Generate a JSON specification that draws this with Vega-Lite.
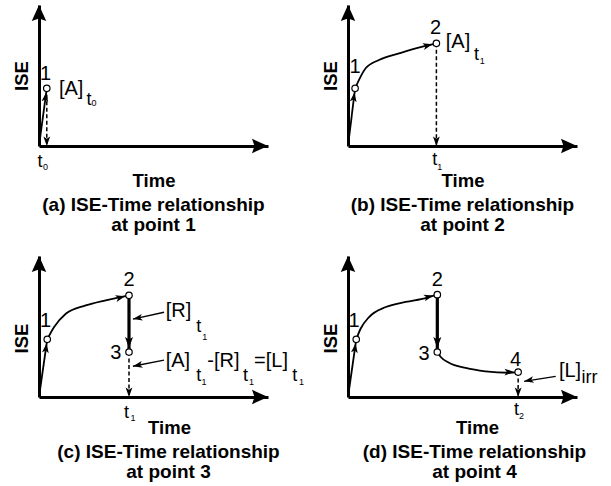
{
  "$schema": "https://vega.github.io/schema/vega-lite/v6.json",
  "padding": {"left": 12, "top": 5, "right": 5, "bottom": 2},
  "columns": 2,
  "spacing": {"row": 110, "column": 80},
  "bounds": "flush",
  "config": {
    "view": {"stroke": null},
    "font": "Liberation Sans",
    "axis": {"domainColor": "black", "domainWidth": 3, "ticks": false, "labels": false, "grid": false, "titleFont": "Liberation Sans", "titleFontSize": 18.5, "titleFontWeight": "bold", "titleColor": "black"},
    "axisX": {"titlePadding": 25},
    "axisY": {"titlePadding": 8},
    "title": {"font": "Liberation Sans", "fontSize": 19, "fontWeight": "bold", "color": "black", "lineHeight": 20, "orient": "bottom", "frame": "group", "anchor": "middle", "offset": 6},
    "text": {"font": "Liberation Sans", "color": "black"},
    "line": {"color": "black", "interpolate": "monotone"},
    "style": {
      "lsolid": {"strokeWidth": 1.8},
      "lthick": {"strokeWidth": 3.2},
      "ldash": {"strokeWidth": 1.5, "strokeDash": [4, 2.5]},
      "lpointer": {"strokeWidth": 1.3},
      "num": {"fontSize": 20, "align": "center", "baseline": "middle"},
      "tmain": {"fontSize": 20, "align": "left", "baseline": "middle"},
      "tsub": {"fontSize": 18, "align": "left", "baseline": "middle"},
      "tsub2": {"fontSize": 9, "align": "left", "baseline": "middle"}
    }
  },
  "datasets": {
    "lines": [
      {"panel": "a", "seg": "a1", "kind": "solid", "x": 0, "y": 0},
      {"panel": "a", "seg": "a1", "kind": "solid", "x": 0.34, "y": 4.09},
      {"panel": "a", "seg": "a2", "kind": "dash", "x": 0.34, "y": 4.09},
      {"panel": "a", "seg": "a2", "kind": "dash", "x": 0.34, "y": 0},
      {"panel": "b", "seg": "b1", "kind": "solid", "x": 0, "y": 0},
      {"panel": "b", "seg": "b1", "kind": "solid", "x": 0.31, "y": 4.09},
      {"panel": "b", "seg": "b2", "kind": "solid", "x": 0.31, "y": 4.09},
      {"panel": "b", "seg": "b2", "kind": "solid", "x": 0.77, "y": 5.51},
      {"panel": "b", "seg": "b2", "kind": "solid", "x": 1.35, "y": 6.1},
      {"panel": "b", "seg": "b2", "kind": "solid", "x": 2.23, "y": 6.57},
      {"panel": "b", "seg": "b2", "kind": "solid", "x": 2.96, "y": 6.93},
      {"panel": "b", "seg": "b2", "kind": "solid", "x": 3.86, "y": 7.28},
      {"panel": "b", "seg": "b3", "kind": "dash", "x": 3.86, "y": 7.28},
      {"panel": "b", "seg": "b3", "kind": "dash", "x": 3.86, "y": 0},
      {"panel": "c", "seg": "c1", "kind": "solid", "x": 0, "y": 0},
      {"panel": "c", "seg": "c1", "kind": "solid", "x": 0.36, "y": 4.09},
      {"panel": "c", "seg": "c2", "kind": "solid", "x": 0.36, "y": 4.09},
      {"panel": "c", "seg": "c2", "kind": "solid", "x": 0.66, "y": 4.96},
      {"panel": "c", "seg": "c2", "kind": "solid", "x": 1.17, "y": 5.9},
      {"panel": "c", "seg": "c2", "kind": "solid", "x": 2.04, "y": 6.5},
      {"panel": "c", "seg": "c2", "kind": "solid", "x": 2.91, "y": 6.86},
      {"panel": "c", "seg": "c2", "kind": "solid", "x": 3.56, "y": 7.09},
      {"panel": "c", "seg": "c2", "kind": "solid", "x": 3.93, "y": 7.21},
      {"panel": "c", "seg": "c3", "kind": "thick", "x": 3.93, "y": 7.21},
      {"panel": "c", "seg": "c3", "kind": "thick", "x": 3.93, "y": 3.19},
      {"panel": "c", "seg": "c4", "kind": "dash", "x": 3.93, "y": 3.19},
      {"panel": "c", "seg": "c4", "kind": "dash", "x": 3.93, "y": 0},
      {"panel": "c", "seg": "c5", "kind": "pointer", "x": 5.46, "y": 6.01},
      {"panel": "c", "seg": "c5", "kind": "pointer", "x": 4.1, "y": 5.53},
      {"panel": "c", "seg": "c6", "kind": "pointer", "x": 5.46, "y": 2.62},
      {"panel": "c", "seg": "c6", "kind": "pointer", "x": 4.1, "y": 2.18},
      {"panel": "d", "seg": "d1", "kind": "solid", "x": 0, "y": 0},
      {"panel": "d", "seg": "d1", "kind": "solid", "x": 0.36, "y": 4.09},
      {"panel": "d", "seg": "d2", "kind": "solid", "x": 0.36, "y": 4.09},
      {"panel": "d", "seg": "d2", "kind": "solid", "x": 0.55, "y": 4.84},
      {"panel": "d", "seg": "d2", "kind": "solid", "x": 0.92, "y": 5.67},
      {"panel": "d", "seg": "d2", "kind": "solid", "x": 1.65, "y": 6.38},
      {"panel": "d", "seg": "d2", "kind": "solid", "x": 2.52, "y": 6.74},
      {"panel": "d", "seg": "d2", "kind": "solid", "x": 3.39, "y": 7.02},
      {"panel": "d", "seg": "d2", "kind": "solid", "x": 3.9, "y": 7.26},
      {"panel": "d", "seg": "d3", "kind": "thick", "x": 3.9, "y": 7.26},
      {"panel": "d", "seg": "d3", "kind": "thick", "x": 3.9, "y": 3.19},
      {"panel": "d", "seg": "d4", "kind": "solid", "x": 3.9, "y": 3.19},
      {"panel": "d", "seg": "d4", "kind": "solid", "x": 4.05, "y": 2.84},
      {"panel": "d", "seg": "d4", "kind": "solid", "x": 4.41, "y": 2.43},
      {"panel": "d", "seg": "d4", "kind": "solid", "x": 5.14, "y": 2.06},
      {"panel": "d", "seg": "d4", "kind": "solid", "x": 6.0, "y": 1.82},
      {"panel": "d", "seg": "d4", "kind": "solid", "x": 7.03, "y": 1.72},
      {"panel": "d", "seg": "d4", "kind": "solid", "x": 7.43, "y": 1.77},
      {"panel": "d", "seg": "d5", "kind": "dash", "x": 7.43, "y": 1.77},
      {"panel": "d", "seg": "d5", "kind": "dash", "x": 7.43, "y": 0},
      {"panel": "d", "seg": "d6", "kind": "pointer", "x": 9.07, "y": 1.47},
      {"panel": "d", "seg": "d6", "kind": "pointer", "x": 7.69, "y": 1.11}
    ],
    "heads": [
      {"panel": "a", "head": "gap-steep", "x": 0.34, "y": 4.09},
      {"panel": "a", "head": "tip-down", "x": 0.34, "y": 0},
      {"panel": "a", "head": "axis-right", "x": 10, "y": 0},
      {"panel": "a", "head": "axis-up", "x": 0, "y": 10},
      {"panel": "b", "head": "gap-steep", "x": 0.31, "y": 4.09},
      {"panel": "b", "head": "gap-upright", "x": 3.86, "y": 7.28},
      {"panel": "b", "head": "tip-down", "x": 3.86, "y": 0},
      {"panel": "b", "head": "axis-right", "x": 10, "y": 0},
      {"panel": "b", "head": "axis-up", "x": 0, "y": 10},
      {"panel": "c", "head": "gap-steep", "x": 0.36, "y": 4.09},
      {"panel": "c", "head": "gap-upright", "x": 3.93, "y": 7.21},
      {"panel": "c", "head": "gap-down", "x": 3.93, "y": 3.19},
      {"panel": "c", "head": "tip-down", "x": 3.93, "y": 0},
      {"panel": "c", "head": "tip-left", "x": 4.1, "y": 5.53},
      {"panel": "c", "head": "tip-left", "x": 4.1, "y": 2.18},
      {"panel": "c", "head": "axis-right", "x": 10, "y": 0},
      {"panel": "c", "head": "axis-up", "x": 0, "y": 10},
      {"panel": "d", "head": "gap-steep", "x": 0.36, "y": 4.09},
      {"panel": "d", "head": "gap-upright", "x": 3.9, "y": 7.26},
      {"panel": "d", "head": "gap-down", "x": 3.9, "y": 3.19},
      {"panel": "d", "head": "gap-right", "x": 7.43, "y": 1.77},
      {"panel": "d", "head": "tip-down", "x": 7.43, "y": 0},
      {"panel": "d", "head": "tip-left", "x": 7.69, "y": 1.11},
      {"panel": "d", "head": "axis-right", "x": 10, "y": 0},
      {"panel": "d", "head": "axis-up", "x": 0, "y": 10}
    ],
    "points": [
      {"panel": "a", "x": 0.34, "y": 4.09},
      {"panel": "b", "x": 0.31, "y": 4.09},
      {"panel": "b", "x": 3.86, "y": 7.28},
      {"panel": "c", "x": 0.36, "y": 4.09},
      {"panel": "c", "x": 3.93, "y": 7.21},
      {"panel": "c", "x": 3.93, "y": 3.19},
      {"panel": "d", "x": 0.36, "y": 4.09},
      {"panel": "d", "x": 3.9, "y": 7.26},
      {"panel": "d", "x": 3.9, "y": 3.19},
      {"panel": "d", "x": 7.43, "y": 1.77}
    ],
    "nums": [
      {"panel": "a", "x": 0.29, "y": 5.11, "text": "1"},
      {"panel": "b", "x": 0.31, "y": 5.62, "text": "1"},
      {"panel": "b", "x": 3.82, "y": 8.37, "text": "2"},
      {"panel": "c", "x": 0.29, "y": 5.39, "text": "1"},
      {"panel": "c", "x": 3.93, "y": 8.28, "text": "2"},
      {"panel": "c", "x": 3.35, "y": 3.14, "text": "3"},
      {"panel": "d", "x": 0.26, "y": 5.39, "text": "1"},
      {"panel": "d", "x": 3.9, "y": 8.28, "text": "2"},
      {"panel": "d", "x": 3.32, "y": 3.07, "text": "3"},
      {"panel": "d", "x": 7.32, "y": 2.65, "text": "4"}
    ],
    "labels": [
      {"panel": "a", "role": "main", "x": 0.87, "y": 4.07, "text": "[A]"},
      {"panel": "a", "role": "sub", "x": 2.07, "y": 3.26, "text": "t"},
      {"panel": "a", "role": "sub2", "x": 2.29, "y": 3.05, "text": "0"},
      {"panel": "a", "role": "sub", "x": -0.07, "y": -1.13, "text": "t"},
      {"panel": "a", "role": "sub2", "x": 0.17, "y": -1.49, "text": "0"},
      {"panel": "b", "role": "main", "x": 4.27, "y": 7.36, "text": "[A]"},
      {"panel": "b", "role": "sub", "x": 5.5, "y": 6.42, "text": "t"},
      {"panel": "b", "role": "sub2", "x": 5.75, "y": 6.01, "text": "1"},
      {"panel": "b", "role": "sub", "x": 3.68, "y": -1.01, "text": "t"},
      {"panel": "b", "role": "sub2", "x": 3.9, "y": -1.47, "text": "1"},
      {"panel": "c", "role": "main", "x": 5.53, "y": 6.12, "text": "[R]"},
      {"panel": "c", "role": "sub", "x": 6.87, "y": 5.0, "text": "t"},
      {"panel": "c", "role": "sub2", "x": 7.13, "y": 4.23, "text": "1"},
      {"panel": "c", "role": "main", "x": 5.53, "y": 2.52, "text": "[A]"},
      {"panel": "c", "role": "sub", "x": 6.87, "y": 1.51, "text": "t"},
      {"panel": "c", "role": "sub2", "x": 7.1, "y": 1.06, "text": "1"},
      {"panel": "c", "role": "main", "x": 7.35, "y": 2.52, "text": "-[R]"},
      {"panel": "c", "role": "sub", "x": 8.91, "y": 1.51, "text": "t"},
      {"panel": "c", "role": "sub2", "x": 9.17, "y": 1.06, "text": "1"},
      {"panel": "c", "role": "main", "x": 9.39, "y": 2.52, "text": "=[L]"},
      {"panel": "c", "role": "sub", "x": 11.06, "y": 1.51, "text": "t"},
      {"panel": "c", "role": "sub2", "x": 11.35, "y": 1.06, "text": "1"},
      {"panel": "c", "role": "sub", "x": 3.71, "y": -1.15, "text": "t"},
      {"panel": "c", "role": "sub2", "x": 4.0, "y": -1.5, "text": "1"},
      {"panel": "d", "role": "main", "x": 9.21, "y": 1.81, "text": "[L]"},
      {"panel": "d", "role": "sub", "x": 10.2, "y": 1.35, "text": "irr"},
      {"panel": "d", "role": "sub", "x": 7.25, "y": -0.89, "text": "t"},
      {"panel": "d", "role": "sub2", "x": 7.47, "y": -1.35, "text": "2"}
    ]
  },
  "concat": [
    {
      "width": 229, "height": 141,
      "title": {"text": ["(a) ISE-Time relationship", "at point 1"], "orient": "bottom"},
      "encoding": {
        "x": {"field": "x", "type": "quantitative", "scale": {"domain": [0, 10], "nice": false, "zero": false}, "axis": {"title": "Time"}},
        "y": {"field": "y", "type": "quantitative", "scale": {"domain": [0, 10], "nice": false, "zero": false}, "axis": {"title": "ISE"}}
      },
      "layer": [
        {"data": {"name": "lines"}, "transform": [{"filter": "datum.panel === 'a' && datum.kind === 'solid'"}], "mark": {"type": "line", "style": "lsolid"}, "encoding": {"detail": {"field": "seg"}}},
        {"data": {"name": "lines"}, "transform": [{"filter": "datum.panel === 'a' && datum.kind === 'thick'"}], "mark": {"type": "line", "style": "lthick"}, "encoding": {"detail": {"field": "seg"}}},
        {"data": {"name": "lines"}, "transform": [{"filter": "datum.panel === 'a' && datum.kind === 'dash'"}], "mark": {"type": "line", "style": "ldash"}, "encoding": {"detail": {"field": "seg"}}},
        {"data": {"name": "lines"}, "transform": [{"filter": "datum.panel === 'a' && datum.kind === 'pointer'"}], "mark": {"type": "line", "style": "lpointer"}, "encoding": {"detail": {"field": "seg"}}},
        {"data": {"name": "heads"}, "transform": [{"filter": "datum.panel === 'a'"}], "mark": {"type": "point", "filled": true, "color": "black", "opacity": 1, "size": 100, "strokeWidth": 0},
         "encoding": {"shape": {"field": "head", "type": "nominal", "legend": null, "scale": {
           "domain": ["axis-right", "axis-up", "tip-down", "tip-left", "gap-steep", "gap-upright", "gap-down", "gap-right"],
           "range": ["M0,0L-3.2,-1.45L-2.7,0L-3.2,1.45Z", "M0,0L-1.45,3.2L0,2.7L1.45,3.2Z", "M0,0L0.68,-1.92L0,-1.44L-0.68,-1.92Z", "M0,0L2.01,0.3L1.41,-0.27L1.76,-1.03Z", "M-0.11,0.79L-1.05,2.6L-0.31,2.22L0.29,2.79Z", "M-0.78,0.19L-2.8,0L-2.17,0.54L-2.47,1.32Z", "M0,-0.8L0.8,-3L0,-2.5L-0.8,-3Z", "M-0.8,0L-2.72,-0.68L-2.24,0L-2.72,0.68Z"]}}}},
        {"data": {"name": "points"}, "transform": [{"filter": "datum.panel === 'a'"}], "mark": {"type": "point", "shape": "circle", "size": 42, "filled": true, "fill": "white", "stroke": "black", "strokeWidth": 1.2, "opacity": 1}},
        {"data": {"name": "nums"}, "transform": [{"filter": "datum.panel === 'a'"}], "mark": {"type": "text", "style": "num"}, "encoding": {"text": {"field": "text"}}},
        {"data": {"name": "labels"}, "transform": [{"filter": "datum.panel === 'a' && datum.role === 'main'"}], "mark": {"type": "text", "style": "tmain"}, "encoding": {"text": {"field": "text"}}},
        {"data": {"name": "labels"}, "transform": [{"filter": "datum.panel === 'a' && datum.role === 'sub'"}], "mark": {"type": "text", "style": "tsub"}, "encoding": {"text": {"field": "text"}}},
        {"data": {"name": "labels"}, "transform": [{"filter": "datum.panel === 'a' && datum.role === 'sub2'"}], "mark": {"type": "text", "style": "tsub2"}, "encoding": {"text": {"field": "text"}}}
      ]
    },
    {
      "width": 229, "height": 141,
      "title": {"text": ["(b) ISE-Time relationship", "at point 2"], "orient": "bottom"},
      "encoding": {
        "x": {"field": "x", "type": "quantitative", "scale": {"domain": [0, 10], "nice": false, "zero": false}, "axis": {"title": "Time"}},
        "y": {"field": "y", "type": "quantitative", "scale": {"domain": [0, 10], "nice": false, "zero": false}, "axis": {"title": "ISE"}}
      },
      "layer": [
        {"data": {"name": "lines"}, "transform": [{"filter": "datum.panel === 'b' && datum.kind === 'solid'"}], "mark": {"type": "line", "style": "lsolid"}, "encoding": {"detail": {"field": "seg"}}},
        {"data": {"name": "lines"}, "transform": [{"filter": "datum.panel === 'b' && datum.kind === 'thick'"}], "mark": {"type": "line", "style": "lthick"}, "encoding": {"detail": {"field": "seg"}}},
        {"data": {"name": "lines"}, "transform": [{"filter": "datum.panel === 'b' && datum.kind === 'dash'"}], "mark": {"type": "line", "style": "ldash"}, "encoding": {"detail": {"field": "seg"}}},
        {"data": {"name": "lines"}, "transform": [{"filter": "datum.panel === 'b' && datum.kind === 'pointer'"}], "mark": {"type": "line", "style": "lpointer"}, "encoding": {"detail": {"field": "seg"}}},
        {"data": {"name": "heads"}, "transform": [{"filter": "datum.panel === 'b'"}], "mark": {"type": "point", "filled": true, "color": "black", "opacity": 1, "size": 100, "strokeWidth": 0},
         "encoding": {"shape": {"field": "head", "type": "nominal", "legend": null, "scale": {
           "domain": ["axis-right", "axis-up", "tip-down", "tip-left", "gap-steep", "gap-upright", "gap-down", "gap-right"],
           "range": ["M0,0L-3.2,-1.45L-2.7,0L-3.2,1.45Z", "M0,0L-1.45,3.2L0,2.7L1.45,3.2Z", "M0,0L0.68,-1.92L0,-1.44L-0.68,-1.92Z", "M0,0L2.01,0.3L1.41,-0.27L1.76,-1.03Z", "M-0.11,0.79L-1.05,2.6L-0.31,2.22L0.29,2.79Z", "M-0.78,0.19L-2.8,0L-2.17,0.54L-2.47,1.32Z", "M0,-0.8L0.8,-3L0,-2.5L-0.8,-3Z", "M-0.8,0L-2.72,-0.68L-2.24,0L-2.72,0.68Z"]}}}},
        {"data": {"name": "points"}, "transform": [{"filter": "datum.panel === 'b'"}], "mark": {"type": "point", "shape": "circle", "size": 42, "filled": true, "fill": "white", "stroke": "black", "strokeWidth": 1.2, "opacity": 1}},
        {"data": {"name": "nums"}, "transform": [{"filter": "datum.panel === 'b'"}], "mark": {"type": "text", "style": "num"}, "encoding": {"text": {"field": "text"}}},
        {"data": {"name": "labels"}, "transform": [{"filter": "datum.panel === 'b' && datum.role === 'main'"}], "mark": {"type": "text", "style": "tmain"}, "encoding": {"text": {"field": "text"}}},
        {"data": {"name": "labels"}, "transform": [{"filter": "datum.panel === 'b' && datum.role === 'sub'"}], "mark": {"type": "text", "style": "tsub"}, "encoding": {"text": {"field": "text"}}},
        {"data": {"name": "labels"}, "transform": [{"filter": "datum.panel === 'b' && datum.role === 'sub2'"}], "mark": {"type": "text", "style": "tsub2"}, "encoding": {"text": {"field": "text"}}}
      ]
    },
    {
      "width": 229, "height": 141,
      "title": {"text": ["(c) ISE-Time relationship", "at point 3"], "orient": "bottom", "offset": 6, "dx": 15},
      "encoding": {
        "x": {"field": "x", "type": "quantitative", "scale": {"domain": [0, 10], "nice": false, "zero": false}, "axis": {"title": "Time", "titlePadding": 21, "titleX": 130}},
        "y": {"field": "y", "type": "quantitative", "scale": {"domain": [0, 10], "nice": false, "zero": false}, "axis": {"title": "ISE", "titleY": 82}}
      },
      "layer": [
        {"data": {"name": "lines"}, "transform": [{"filter": "datum.panel === 'c' && datum.kind === 'solid'"}], "mark": {"type": "line", "style": "lsolid"}, "encoding": {"detail": {"field": "seg"}}},
        {"data": {"name": "lines"}, "transform": [{"filter": "datum.panel === 'c' && datum.kind === 'thick'"}], "mark": {"type": "line", "style": "lthick"}, "encoding": {"detail": {"field": "seg"}}},
        {"data": {"name": "lines"}, "transform": [{"filter": "datum.panel === 'c' && datum.kind === 'dash'"}], "mark": {"type": "line", "style": "ldash"}, "encoding": {"detail": {"field": "seg"}}},
        {"data": {"name": "lines"}, "transform": [{"filter": "datum.panel === 'c' && datum.kind === 'pointer'"}], "mark": {"type": "line", "style": "lpointer"}, "encoding": {"detail": {"field": "seg"}}},
        {"data": {"name": "heads"}, "transform": [{"filter": "datum.panel === 'c'"}], "mark": {"type": "point", "filled": true, "color": "black", "opacity": 1, "size": 100, "strokeWidth": 0},
         "encoding": {"shape": {"field": "head", "type": "nominal", "legend": null, "scale": {
           "domain": ["axis-right", "axis-up", "tip-down", "tip-left", "gap-steep", "gap-upright", "gap-down", "gap-right"],
           "range": ["M0,0L-3.2,-1.45L-2.7,0L-3.2,1.45Z", "M0,0L-1.45,3.2L0,2.7L1.45,3.2Z", "M0,0L0.68,-1.92L0,-1.44L-0.68,-1.92Z", "M0,0L2.01,0.3L1.41,-0.27L1.76,-1.03Z", "M-0.11,0.79L-1.05,2.6L-0.31,2.22L0.29,2.79Z", "M-0.78,0.19L-2.8,0L-2.17,0.54L-2.47,1.32Z", "M0,-0.8L0.8,-3L0,-2.5L-0.8,-3Z", "M-0.8,0L-2.72,-0.68L-2.24,0L-2.72,0.68Z"]}}}},
        {"data": {"name": "points"}, "transform": [{"filter": "datum.panel === 'c'"}], "mark": {"type": "point", "shape": "circle", "size": 42, "filled": true, "fill": "white", "stroke": "black", "strokeWidth": 1.2, "opacity": 1}},
        {"data": {"name": "nums"}, "transform": [{"filter": "datum.panel === 'c'"}], "mark": {"type": "text", "style": "num"}, "encoding": {"text": {"field": "text"}}},
        {"data": {"name": "labels"}, "transform": [{"filter": "datum.panel === 'c' && datum.role === 'main'"}], "mark": {"type": "text", "style": "tmain"}, "encoding": {"text": {"field": "text"}}},
        {"data": {"name": "labels"}, "transform": [{"filter": "datum.panel === 'c' && datum.role === 'sub'"}], "mark": {"type": "text", "style": "tsub"}, "encoding": {"text": {"field": "text"}}},
        {"data": {"name": "labels"}, "transform": [{"filter": "datum.panel === 'c' && datum.role === 'sub2'"}], "mark": {"type": "text", "style": "tsub2"}, "encoding": {"text": {"field": "text"}}}
      ]
    },
    {
      "width": 229, "height": 141,
      "title": {"text": ["(d) ISE-Time relationship", "at point 4"], "orient": "bottom", "offset": 6, "dx": 12},
      "encoding": {
        "x": {"field": "x", "type": "quantitative", "scale": {"domain": [0, 10], "nice": false, "zero": false}, "axis": {"title": "Time", "titlePadding": 21, "titleX": 129}},
        "y": {"field": "y", "type": "quantitative", "scale": {"domain": [0, 10], "nice": false, "zero": false}, "axis": {"title": "ISE", "titleY": 82}}
      },
      "layer": [
        {"data": {"name": "lines"}, "transform": [{"filter": "datum.panel === 'd' && datum.kind === 'solid'"}], "mark": {"type": "line", "style": "lsolid"}, "encoding": {"detail": {"field": "seg"}}},
        {"data": {"name": "lines"}, "transform": [{"filter": "datum.panel === 'd' && datum.kind === 'thick'"}], "mark": {"type": "line", "style": "lthick"}, "encoding": {"detail": {"field": "seg"}}},
        {"data": {"name": "lines"}, "transform": [{"filter": "datum.panel === 'd' && datum.kind === 'dash'"}], "mark": {"type": "line", "style": "ldash"}, "encoding": {"detail": {"field": "seg"}}},
        {"data": {"name": "lines"}, "transform": [{"filter": "datum.panel === 'd' && datum.kind === 'pointer'"}], "mark": {"type": "line", "style": "lpointer"}, "encoding": {"detail": {"field": "seg"}}},
        {"data": {"name": "heads"}, "transform": [{"filter": "datum.panel === 'd'"}], "mark": {"type": "point", "filled": true, "color": "black", "opacity": 1, "size": 100, "strokeWidth": 0},
         "encoding": {"shape": {"field": "head", "type": "nominal", "legend": null, "scale": {
           "domain": ["axis-right", "axis-up", "tip-down", "tip-left", "gap-steep", "gap-upright", "gap-down", "gap-right"],
           "range": ["M0,0L-3.2,-1.45L-2.7,0L-3.2,1.45Z", "M0,0L-1.45,3.2L0,2.7L1.45,3.2Z", "M0,0L0.68,-1.92L0,-1.44L-0.68,-1.92Z", "M0,0L2.01,0.3L1.41,-0.27L1.76,-1.03Z", "M-0.11,0.79L-1.05,2.6L-0.31,2.22L0.29,2.79Z", "M-0.78,0.19L-2.8,0L-2.17,0.54L-2.47,1.32Z", "M0,-0.8L0.8,-3L0,-2.5L-0.8,-3Z", "M-0.8,0L-2.72,-0.68L-2.24,0L-2.72,0.68Z"]}}}},
        {"data": {"name": "points"}, "transform": [{"filter": "datum.panel === 'd'"}], "mark": {"type": "point", "shape": "circle", "size": 42, "filled": true, "fill": "white", "stroke": "black", "strokeWidth": 1.2, "opacity": 1}},
        {"data": {"name": "nums"}, "transform": [{"filter": "datum.panel === 'd'"}], "mark": {"type": "text", "style": "num"}, "encoding": {"text": {"field": "text"}}},
        {"data": {"name": "labels"}, "transform": [{"filter": "datum.panel === 'd' && datum.role === 'main'"}], "mark": {"type": "text", "style": "tmain"}, "encoding": {"text": {"field": "text"}}},
        {"data": {"name": "labels"}, "transform": [{"filter": "datum.panel === 'd' && datum.role === 'sub'"}], "mark": {"type": "text", "style": "tsub"}, "encoding": {"text": {"field": "text"}}},
        {"data": {"name": "labels"}, "transform": [{"filter": "datum.panel === 'd' && datum.role === 'sub2'"}], "mark": {"type": "text", "style": "tsub2"}, "encoding": {"text": {"field": "text"}}}
      ]
    }
  ]
}
